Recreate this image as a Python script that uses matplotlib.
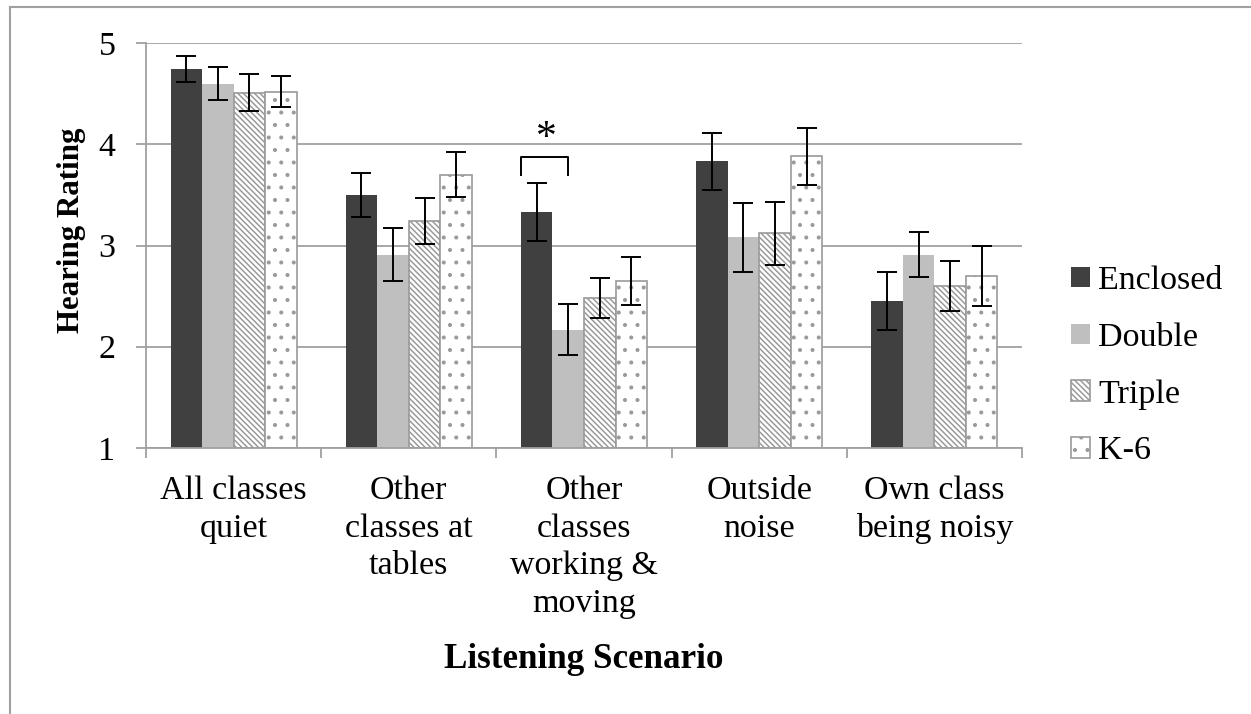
import matplotlib
matplotlib.use("Agg")
import matplotlib.pyplot as plt
import matplotlib.hatch as mhatch
import numpy as np
from matplotlib.lines import Line2D

categories = ["All classes\nquiet", "Other\nclasses at\ntables", "Other\nclasses\nworking &\nmoving",
              "Outside\nnoise", "Own class\nbeing noisy"]
series_names = ["Enclosed", "Double", "Triple", "K-6"]
enclosed = [4.74, 3.50, 3.33, 3.83, 2.45]
double = [4.60, 2.91, 2.17, 3.08, 2.91]
triple = [4.51, 3.24, 2.48, 3.12, 2.60]
k6 = [4.52, 3.70, 2.65, 3.88, 2.70]
enclosed_err = [0.13, 0.22, 0.29, 0.28, 0.285]
double_err = [0.16, 0.26, 0.25, 0.34, 0.22]
triple_err = [0.18, 0.225, 0.20, 0.31, 0.25]
k6_err = [0.155, 0.22, 0.24, 0.28, 0.295]
yticks = [1, 2, 3, 4, 5]

# slightly sparser dot hatch (8 rows per hatch unit instead of 6 or 12)
try:
    class _SparseDots(mhatch.SmallFilledCircles):
        def __init__(self, hatch, density):
            self.num_rows = int(hatch.count('.') * 8)
            mhatch.Circles.__init__(self, hatch, density)
    _idx = mhatch._hatch_types.index(mhatch.SmallFilledCircles)
    mhatch._hatch_types[_idx] = _SparseDots
except Exception:
    pass

plt.rcParams['font.family'] = ['Liberation Serif', 'DejaVu Serif']
plt.rcParams['hatch.linewidth'] = 1.1
FS = 24.5

fig = plt.figure(figsize=(12.51, 7.14), dpi=100)
ax = fig.add_axes([146/1251, 1-448/714, (1022-146)/1251, (448-43)/714])

x = np.arange(len(categories))
w = 0.18
offsets = [-0.27, -0.09, 0.09, 0.27]
vals = [enclosed, double, triple, k6]
errs = [enclosed_err, double_err, triple_err, k6_err]
styles = [
    dict(color='#404040', edgecolor='#404040', linewidth=0),
    dict(color='#BFBFBF', edgecolor='#BFBFBF', linewidth=0),
    dict(facecolor='white', edgecolor='#9A9A9A', hatch='\\\\\\\\\\\\', linewidth=1.2),
    dict(facecolor='white', edgecolor='#9A9A9A', hatch='.', linewidth=1.2),
]
for i in range(4):
    ax.bar(x + offsets[i], np.array(vals[i]) - 1, w, bottom=1, label=series_names[i],
           zorder=2, **styles[i])
    ax.errorbar(x + offsets[i], vals[i], yerr=errs[i], fmt='none', ecolor='black',
                elinewidth=1.4, capsize=7, capthick=1.4, zorder=3)

ax.set_ylim(1, 5)
ax.set_xlim(-0.5, len(categories) - 0.5)
ax.set_yticks(yticks)
ax.set_yticklabels([str(t) for t in yticks], fontsize=FS)
ax.yaxis.grid(True, color='#A0A0A0', linewidth=1.3, zorder=0)
ax.set_axisbelow(True)
ax.set_xticks(x)
ax.set_xticklabels(categories, fontsize=FS, linespacing=1.3)
ax.set_xticks(np.arange(len(categories) + 1) - 0.5, minor=True)
ax.tick_params(axis='x', which='major', length=0, pad=20)
ax.tick_params(axis='x', which='minor', length=7, width=1.3, color='#A0A0A0', direction='out')
ax.tick_params(axis='y', length=7, width=1.3, color='#A0A0A0', pad=15)
for s in ['top', 'right']:
    ax.spines[s].set_visible(False)
for s in ['left', 'bottom']:
    ax.spines[s].set_color('#A0A0A0')
    ax.spines[s].set_linewidth(1.3)

# significance bracket
bx0 = x[2] + offsets[0] - w / 2
bx1 = x[2] + offsets[1]
ax.plot([bx0, bx0, bx1, bx1], [3.695, 3.87, 3.87, 3.695], color='black', linewidth=1.4,
        solid_joinstyle='round', zorder=4)
ax.text((bx0 + bx1) / 2 + 0.01, 3.95, "*", ha='center', va='baseline', fontsize=30)

fig.text(71/1251, 1-230/714, "Hearing Rating", rotation=90, ha='center', va='center',
         fontsize=22.2, fontweight='bold')
fig.text(584/1251, 1-660/714, "Listening Scenario", ha='center', va='center',
         fontsize=25.2, fontweight='bold')

ax.legend(loc='center left', bbox_to_anchor=(1071/1251, 1-366/714),
          bbox_transform=fig.transFigure, frameon=False, fontsize=FS,
          handlelength=0.55, handleheight=0.55, handletextpad=0.25, labelspacing=0.77,
          borderpad=0, borderaxespad=0)

# chart frame (top and left edges)
fig.add_artist(Line2D([10/1251, 10/1251], [0, 1-7/714], transform=fig.transFigure,
                      color='#A0A0A0', linewidth=1.5))
fig.add_artist(Line2D([10/1251, 1], [1-7/714, 1-7/714], transform=fig.transFigure,
                      color='#A0A0A0', linewidth=1.5))

fig.savefig("out.png", dpi=100)
